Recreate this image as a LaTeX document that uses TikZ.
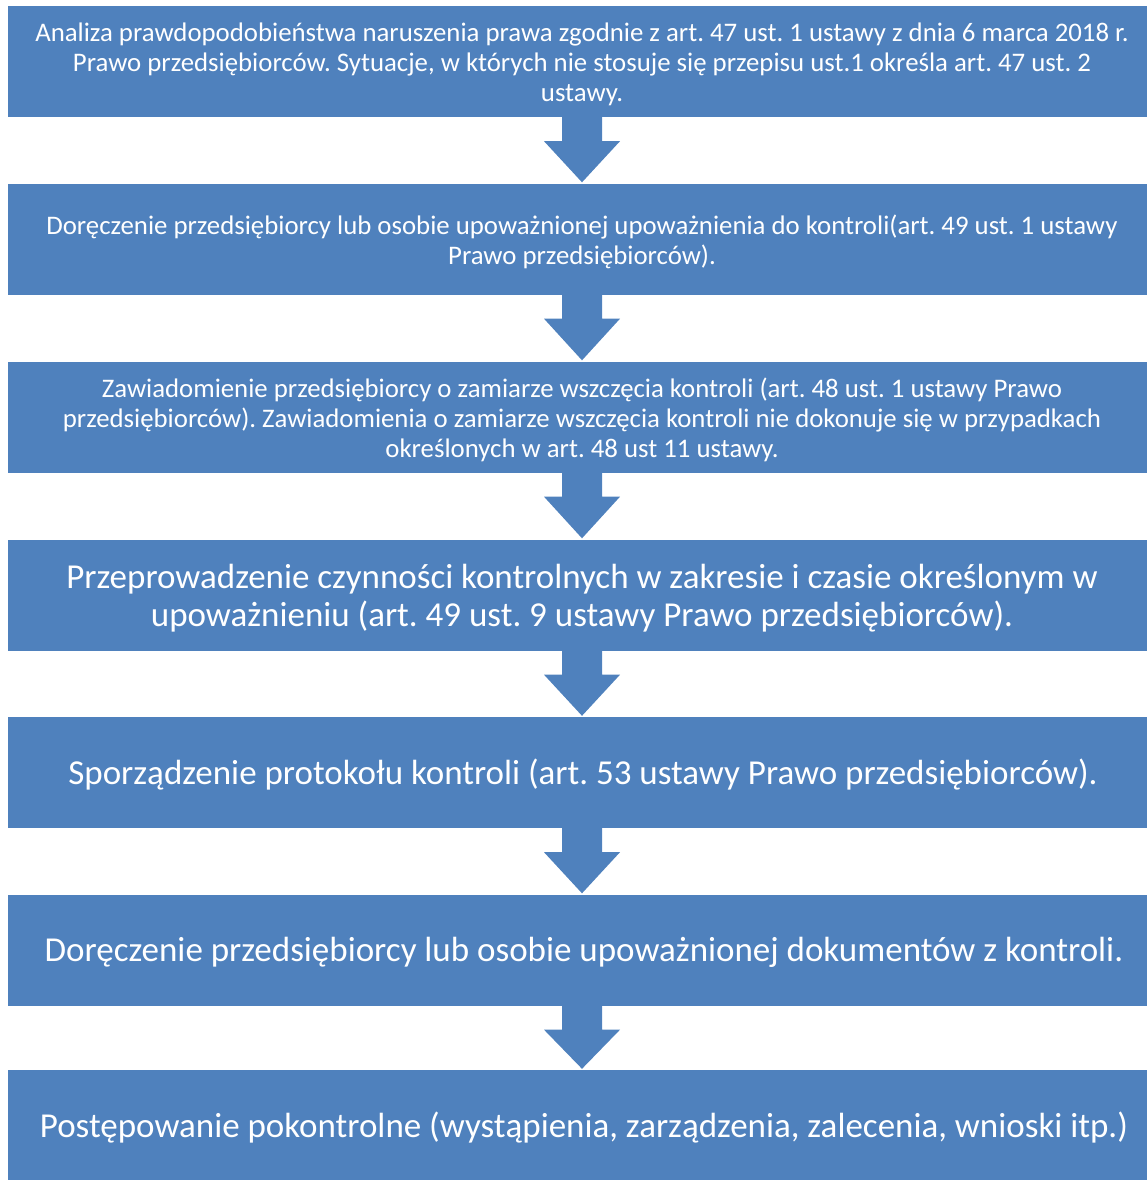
\documentclass[tikz,border=0pt]{standalone}
\usepackage{fontspec}
\setmainfont{Carlito}
\usetikzlibrary{calc}
\definecolor{boxblue}{HTML}{4F81BD}
\frenchspacing
\tikzset{
  box/.style={fill=boxblue, minimum width=1148pt, minimum height=111pt, inner sep=0pt},
  boxtext/.style={text=white, inner sep=0pt, align=center},
  smalltext/.style={boxtext, font=\fontsize{26.8}{30}\selectfont},
  bigtext/.style={boxtext, font=\fontsize{35}{37.5}\selectfont},
  blockarrow/.style={fill=boxblue}
}
\begin{document}
\begin{tikzpicture}[x=1pt,y=-1pt]
\useasboundingbox (0,0) rectangle (1147,1180);
\clip (0,0) rectangle (1147,1180);
\node[box] (b1) at (582,61.5) {};
\node[box] (b2) at (582,239) {};
\node[box] (b3) at (582,417) {};
\node[box] (b4) at (582,595) {};
\node[box] (b5) at (582,772.5) {};
\node[box] (b6) at (582,950) {};
\node[box] (b7) at (582,1125.5) {};
\node[smalltext] (t1) at ($(b1.center)+(0,3)$) {Analiza prawdopodobieństwa naruszenia prawa zgodnie z art. 47 ust. 1 ustawy z dnia 6 marca 2018 r.\\ Prawo przedsiębiorców. Sytuacje, w których nie stosuje się przepisu ust.1 określa art. 47 ust. 2\\ ustawy.};
\node[smalltext] (t2) at ($(b2.center)+(0,3)$) {Doręczenie przedsiębiorcy lub osobie upoważnionej upoważnienia do kontroli(art. 49 ust. 1 ustawy\\ Prawo przedsiębiorców).};
\node[smalltext] (t3) at ($(b3.center)+(0,3)$) {Zawiadomienie przedsiębiorcy o zamiarze wszczęcia kontroli (art. 48 ust. 1 ustawy Prawo\\ przedsiębiorców). Zawiadomienia o zamiarze wszczęcia kontroli nie dokonuje się w przypadkach\\ określonych w art. 48 ust 11 ustawy.};
\node[bigtext] (t4) at ($(b4.center)+(0,3)$) {Przeprowadzenie czynności kontrolnych w zakresie i czasie określonym w\\ upoważnieniu (art. 49 ust. 9 ustawy Prawo przedsiębiorców).};
\node[bigtext] (t5) at ($(b5.center)+(1,2)$) {Sporządzenie protokołu kontroli (art. 53 ustawy Prawo przedsiębiorców).};
\node[bigtext] (t6) at ($(b6.center)+(2,2)$) {Doręczenie przedsiębiorcy lub osobie upoważnionej dokumentów z kontroli.};
\node[bigtext] (t7) at ($(b7.center)+(2,2)$) {Postępowanie pokontrolne (wystąpienia, zarządzenia, zalecenia, wnioski itp.)};
\foreach \a/\b in {b1/b2,b2/b3,b3/b4,b4/b5,b5/b6,b6/b7}{
  \fill[blockarrow] ($(\a.south)+(-20,-0.5)$) -- ($(\a.south)+(-20,24)$) -- ($(\a.south)+(-38,24)$)
    -- ($(\b.north)+(0,-1)$) -- ($(\a.south)+(38,24)$) -- ($(\a.south)+(20,24)$)
    -- ($(\a.south)+(20,-0.5)$) -- cycle;
}
\end{tikzpicture}
\end{document}
